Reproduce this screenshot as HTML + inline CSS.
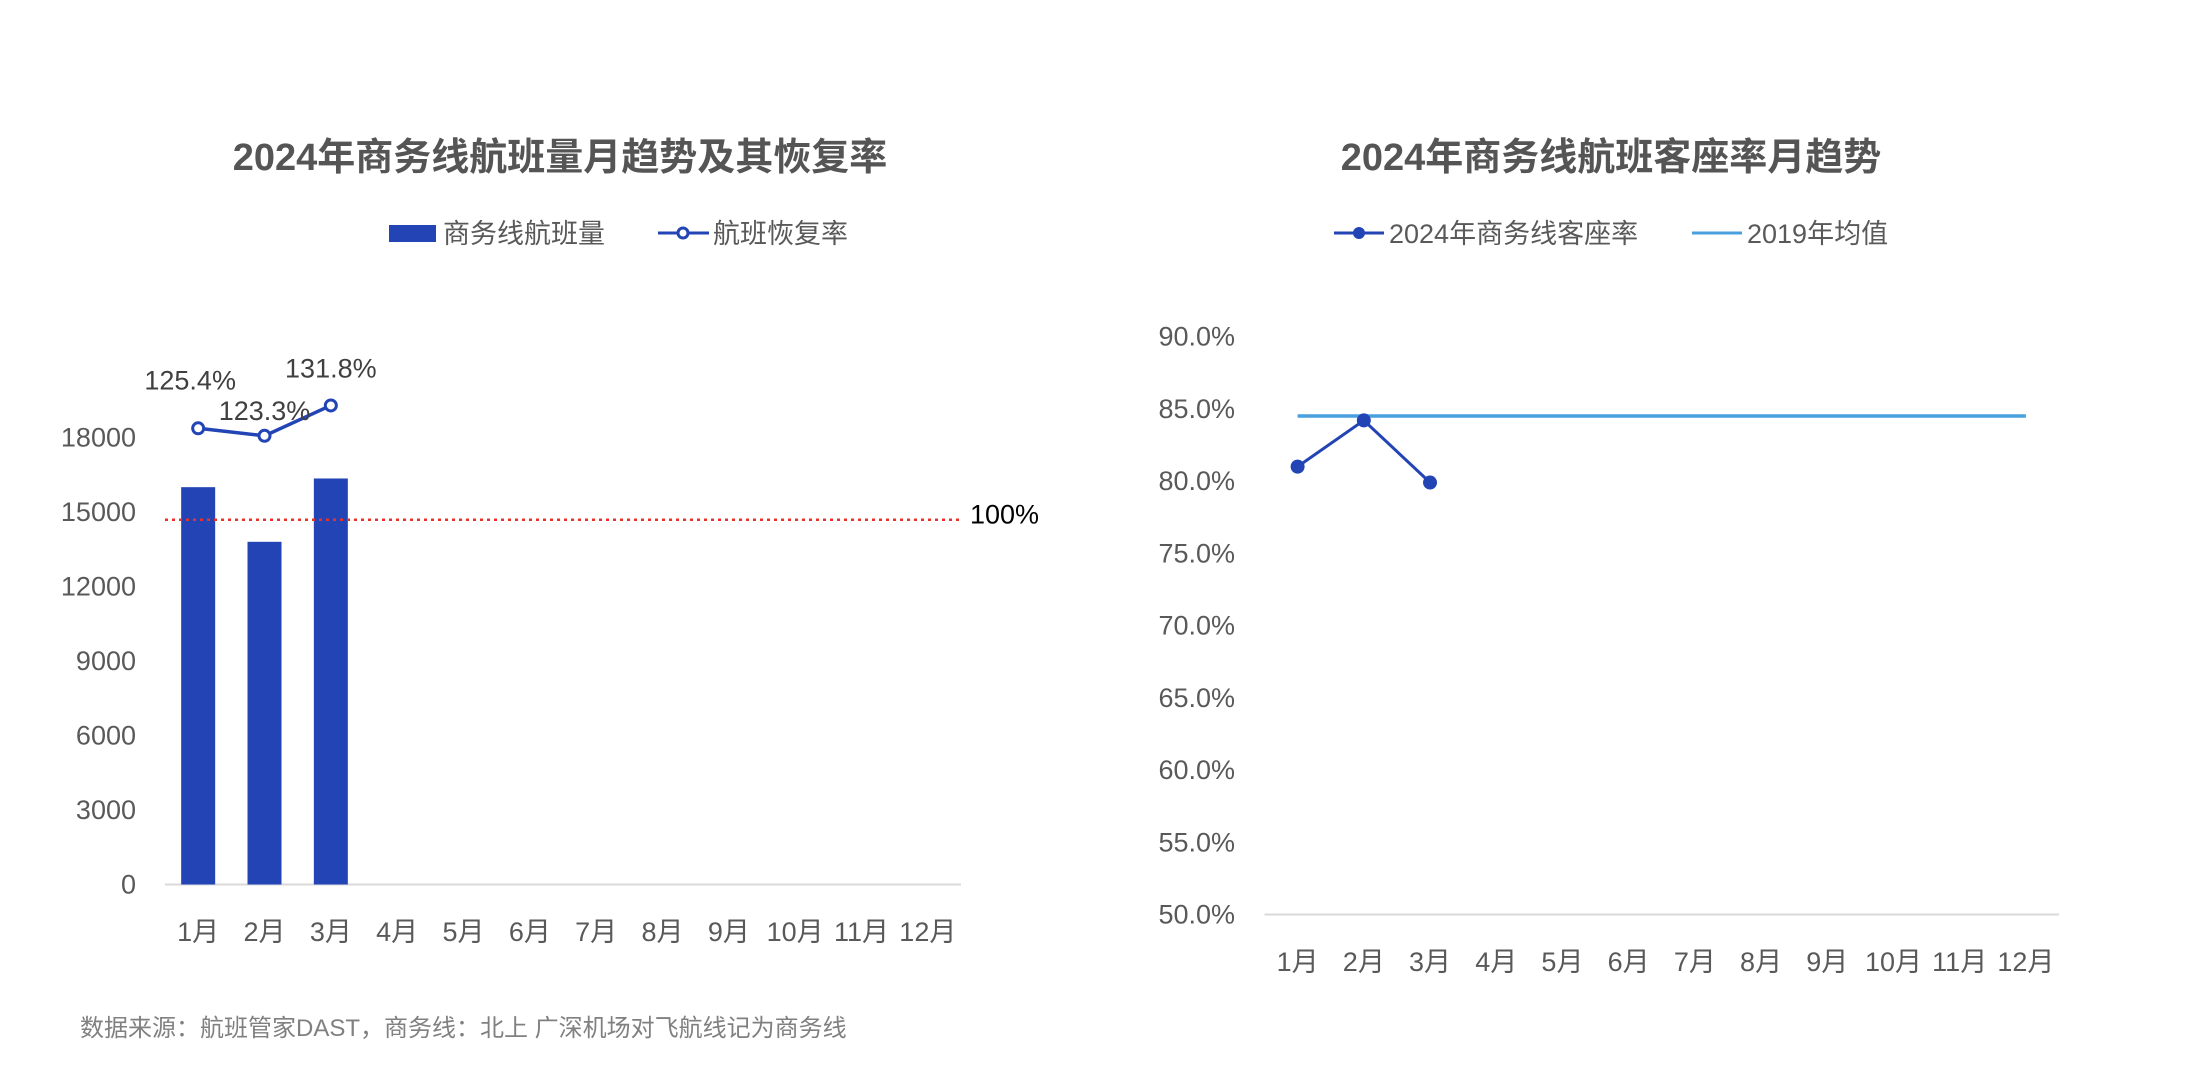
<!DOCTYPE html>
<html><head><meta charset="utf-8"><style>
html,body{margin:0;padding:0;background:#fff;}
svg{display:block;font-family:"Liberation Sans","Noto Sans CJK SC",sans-serif;}
</style></head><body>
<svg id="root" width="2200" height="1078" viewBox="0 0 2200 1078" xmlns="http://www.w3.org/2000/svg">
<rect width="2200" height="1078" fill="#fff"/>
<g id="left">
<text x="560" y="170" text-anchor="middle" font-size="38" font-weight="bold" fill="#555">2024年商务线航班量月趋势及其恢复率</text>
<rect x="389" y="225" width="47" height="17" fill="#2344b5"/>
<text x="443" y="243" font-size="27" fill="#595959">商务线航班量</text>
<line x1="658" y1="233" x2="709" y2="233" stroke="#2344b5" stroke-width="3"/>
<circle cx="683" cy="233" r="5" fill="#fff" stroke="#2344b5" stroke-width="3"/>
<text x="713" y="243" font-size="27" fill="#595959">航班恢复率</text>
</g>
<g id="right">
<text x="1611" y="170" text-anchor="middle" font-size="38" font-weight="bold" fill="#555">2024年商务线航班客座率月趋势</text>
<line x1="1334" y1="233" x2="1384" y2="233" stroke="#2344b5" stroke-width="3"/>
<circle cx="1359" cy="233" r="6" fill="#2344b5"/>
<text x="1389" y="243" font-size="27" fill="#595959">2024年商务线客座率</text>
<line x1="1692" y1="233" x2="1742" y2="233" stroke="#4a9fdf" stroke-width="3"/>
<text x="1747" y="243" font-size="27" fill="#595959">2019年均值</text>
</g>
<text x="80" y="1036" font-size="24" fill="#808080">数据来源：航班管家DAST，商务线：北上 广深机场对飞航线记为商务线</text>
</svg>
<script>
const months = ["1月","2月","3月","4月","5月","6月","7月","8月","9月","10月","11月","12月"];
const flightCounts = [16000, 13800, 16350];
const recoveryRates = [125.4, 123.3, 131.8];
const recoveryLabels = ["125.4%","123.3%","131.8%"];
const baselineValue = 14690;
const leftTicks = [0, 3000, 6000, 9000, 12000, 15000, 18000];
const loadFactor2024 = [81.0, 84.2, 79.9];
const avg2019 = 84.5;
const rightTicks = [50, 55, 60, 65, 70, 75, 80, 85, 90];

const NS = "http://www.w3.org/2000/svg";
function mk(parent, tag, attrs, text) {
  const e = document.createElementNS(NS, tag);
  for (const k in attrs) e.setAttribute(k, attrs[k]);
  if (text !== undefined) e.textContent = text;
  parent.appendChild(e);
  return e;
}
const L = document.getElementById("left");
const R = document.getElementById("right");

// Left axes
const lx0 = 165, lx1 = 961, lyBase = 884.5, lyTop = 437.5;
const lBand = (lx1 - lx0) / months.length;
const lx = i => lx0 + lBand * (i + 0.5);
const ly = v => lyBase - (v / 18000) * (lyBase - lyTop);
// secondary axis for recovery rates
const ly2 = v => 428.3 - (v - 125.4) * 3.57;

leftTicks.forEach(t => {
  const e = mk(L, "text", {x: 136, y: ly(t) + 9, "text-anchor": "end", "font-size": 27, fill: "#595959"}, String(t));
  
  
});
let ax = mk(L, "line", {x1: lx0, y1: lyBase, x2: lx1, y2: lyBase, stroke: "#d9d9d9", "stroke-width": 2});


months.forEach((m, i) => {
  const e = mk(L, "text", {x: lx(i), y: 941, "text-anchor": "middle", "font-size": 27, fill: "#595959"}, m);
  
  
});
flightCounts.forEach((v, i) => {
  const w = 34;
  const b = mk(L, "rect", {x: lx(i) - w / 2, y: ly(v), width: w, height: lyBase - ly(v), fill: "#2344b5"});
  
  
});
let ref = mk(L, "line", {x1: lx0, y1: ly(baselineValue), x2: lx1, y2: ly(baselineValue), stroke: "#e8332a", "stroke-width": 2.5, "stroke-dasharray": "3 4"});


let refl = mk(L, "text", {x: 970, y: ly(baselineValue) + 4, "font-size": 27, fill: "#000"}, "100%");


let pts = recoveryRates.map((v, i) => lx(i) + "," + ly2(v)).join(" ");
let pl = mk(L, "polyline", {points: pts, fill: "none", stroke: "#2344b5", "stroke-width": 3.5});


const labOff = [-48, -25, -37];
const labDx = [-8, 0, 0];
recoveryRates.forEach((v, i) => {
  const c = mk(L, "circle", {cx: lx(i), cy: ly2(v), r: 5.5, fill: "#fff", stroke: "#2344b5", "stroke-width": 3});
  
  
  const t = mk(L, "text", {x: lx(i) + labDx[i], y: ly2(v) + labOff[i] + 9, "text-anchor": "middle", "font-size": 27, fill: "#404040"}, recoveryLabels[i]);
  
  
});

// Right axes
const rx0 = 1264.5, rx1 = 2059, ryBase = 914.5, ryTop = 336.6;
const rBand = (rx1 - rx0) / months.length;
const rx = i => rx0 + rBand * (i + 0.5);
const ry = v => ryBase - (v - 50) / 40 * (ryBase - ryTop);
rightTicks.forEach(t => {
  const e = mk(R, "text", {x: 1235, y: ry(t) + 9, "text-anchor": "end", "font-size": 27, fill: "#595959"}, t.toFixed(1) + "%");
  
  
});
let rax = mk(R, "line", {x1: rx0, y1: ryBase, x2: rx1, y2: ryBase, stroke: "#d9d9d9", "stroke-width": 2});


months.forEach((m, i) => {
  const e = mk(R, "text", {x: rx(i), y: 971, "text-anchor": "middle", "font-size": 27, fill: "#595959"}, m);
  
  
});
let avgl = mk(R, "line", {x1: rx(0), y1: ry(avg2019), x2: rx(months.length - 1), y2: ry(avg2019), stroke: "#4a9fdf", "stroke-width": 3.5});


let lf = mk(R, "polyline", {points: loadFactor2024.map((v, i) => rx(i) + "," + ry(v)).join(" "), fill: "none", stroke: "#2344b5", "stroke-width": 3});


loadFactor2024.forEach((v, i) => {
  const c = mk(R, "circle", {cx: rx(i), cy: ry(v), r: 7, fill: "#2344b5"});
  
  
});
</script>
</body></html>
